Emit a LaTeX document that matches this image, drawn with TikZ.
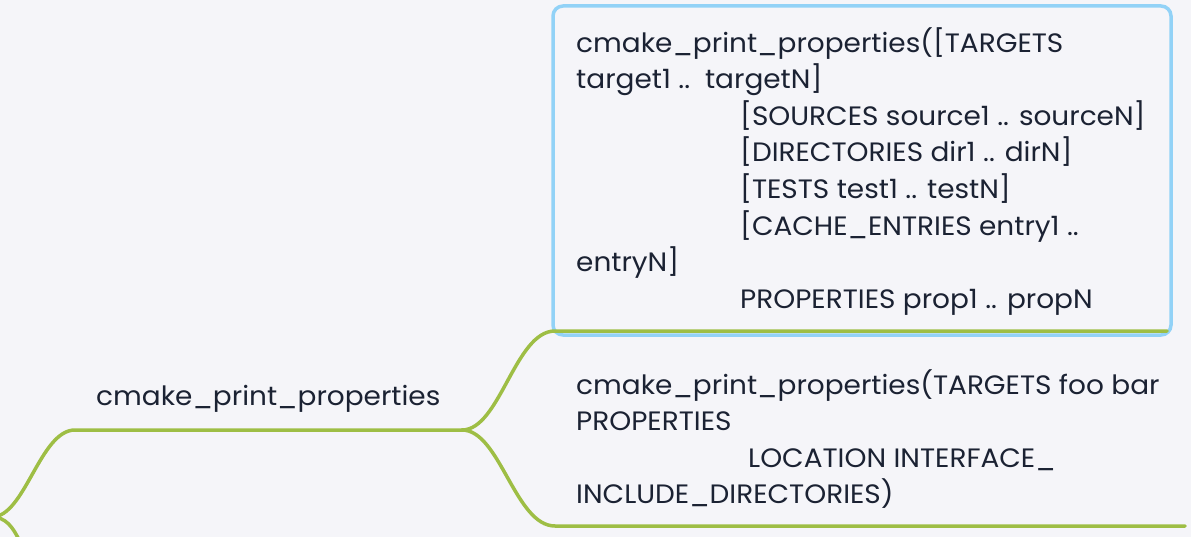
\documentclass[tikz,border=0pt]{standalone}
\usepackage{fontspec}
\setmainfont{Poppins}[FakeStretch=1.05]
\definecolor{bgcol}{HTML}{F5F5F9}
\definecolor{txtcol}{HTML}{1B2233}
\definecolor{branch}{HTML}{9EBE45}
\definecolor{hilite}{HTML}{92D2F7}

\begin{document}
\begin{tikzpicture}
  [x=1pt,y=-1pt,
   line/.style={draw=branch,line width=3.5pt,line cap=round},
   every node/.style={inner sep=0pt,text=txtcol,font=\fontsize{26.6}{36.6}\selectfont}]
  \fill[bgcol] (0,0) rectangle (1191,537);
  \useasboundingbox (0,0) rectangle (1191,537);
  % highlight frame
  \draw[hilite,line width=3.5pt,rounded corners=10pt] (553,6) rectangle (1171,335);
  % branch points
  \coordinate (root) at (-8,517);
  \coordinate (a) at (75,430);
  \coordinate (fork) at (462,430);
  \coordinate (b) at (555,331);
  \coordinate (c) at (555,526);
  \coordinate (bend) at (1167,331);
  \coordinate (cend) at (1185,526);
  \draw[line] (root) .. controls (25,517) and (40,430) .. (a) -- (fork);
  \draw[line] (root) .. controls (20,517) and (20,560) .. (40,570);
  \draw[line] (fork) .. controls (500,430) and (515,331) .. (b) -- (bend);
  \draw[line] (fork) .. controls (500,430) and (515,526) .. (c) -- (cend);
  % labels
  \node[anchor=base west] (topic) at (96,405) {cmake\_print\_properties};
  \node[anchor=north west,align=left] (syntax) at (576,27) {%
    cmake\_print\_properties([TARGETS\\
    target1 ..\ \ targetN]\\
    \hspace*{164pt}[SOURCES source1 .. sourceN]\\
    \hspace*{164pt}[DIRECTORIES dir1 .. dirN]\\
    \hspace*{164pt}[TESTS test1 .. testN]\\
    \hspace*{164pt}[CACHE\_ENTRIES entry1 ..\\
    entryN]\\
    \hspace*{164pt}PROPERTIES prop1 .. propN};
  \node[anchor=north west,align=left] (usage) at (576,369) {%
    cmake\_print\_properties(TARGETS foo bar\\
    PROPERTIES\\
    \hspace*{172pt}LOCATION INTERFACE\_\\
    INCLUDE\_DIRECTORIES)};
\end{tikzpicture}
\end{document}
